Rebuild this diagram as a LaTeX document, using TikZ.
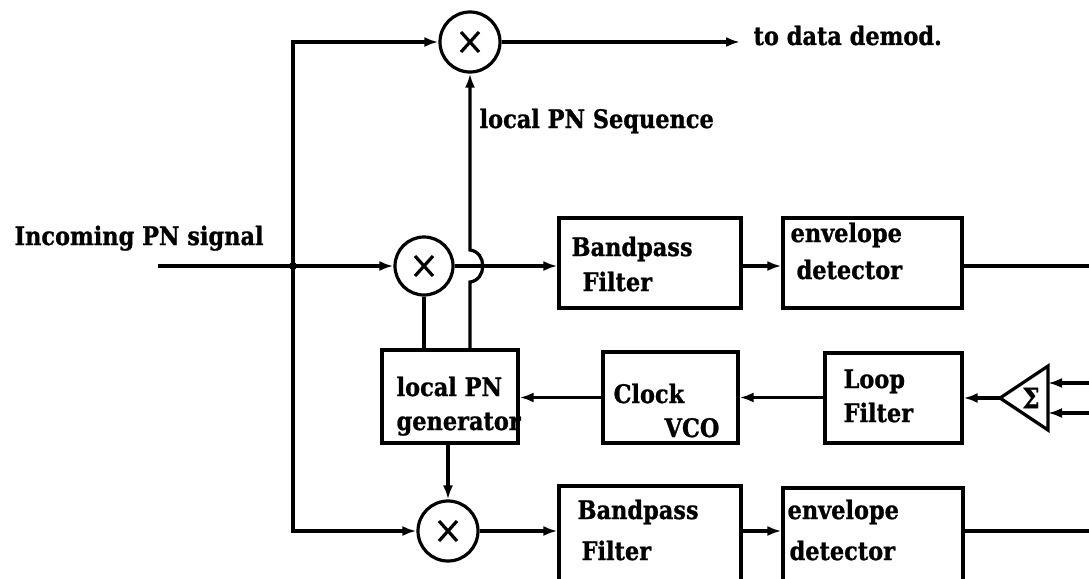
\documentclass[tikz,border=0pt]{standalone}
\usepackage{fontspec}
\setmainfont{DejaVu Serif}[FakeStretch=0.88, BoldFeatures={FakeBold=1}]
\usetikzlibrary{arrows.meta,calc}
\begin{document}
\begin{tikzpicture}[x=1pt,y=-1pt,
  line width=3.2pt,
  font=\fontsize{25.5}{28}\selectfont\bfseries,
  blk/.style={draw, rectangle, inner sep=0pt},
  mult/.style={draw, circle, inner sep=0pt, minimum size=60pt,
    path picture={\draw[line width=3.2pt]
      ($(path picture bounding box.center)+(-9,-10)$) -- ++(18,20)
      ($(path picture bounding box.center)+(9,-10)$) -- ++(-18,20);}},
  lbl/.style={anchor=base west, inner sep=0pt},
  arr/.style={-{Latex[length=14pt,width=10pt]}},
]
\useasboundingbox (0,0) rectangle (1089,578);
\clip (0,0) rectangle (1089,578);

% multipliers
\node[mult] (m1) at (470,42) {};
\node[mult, minimum size=58pt] (m2) at (424,266) {};
\node[mult] (m3) at (448,531) {};

% blocks
\node[blk, minimum width=182pt, minimum height=90pt] (bp1) at (650,263) {};
\node[blk, minimum width=179pt, minimum height=90pt] (env1) at (872.5,263) {};
\node[blk, minimum width=136pt, minimum height=93pt] (pngen) at (450,396.5) {};
\node[blk, minimum width=135pt, minimum height=91pt] (vco) at (670.5,397.5) {};
\node[blk, minimum width=137pt, minimum height=90pt] (loop) at (893.5,398) {};
\node[blk, minimum width=182pt, minimum height=110pt] (bp2) at (650,541) {};
\node[blk, minimum width=180pt, minimum height=110pt] (env2) at (873,543) {};

% summing amplifier
\coordinate (sapex) at (1000,398);
\coordinate (stop) at (1048,366);
\coordinate (sbot) at (1048,430);
\draw[line join=miter] (sapex) -- (stop) -- (sbot) -- cycle;
\node[inner sep=0pt, font=\fontsize{28}{30}\selectfont\bfseries] (sigma) at (1031,398) {Σ};
\coordinate (sin1) at (1048,383);
\coordinate (sin2) at (1048,413);
\coordinate (sfeed1) at (1089,383);
\coordinate (sfeed2) at (1089,413);

% labels
\node[lbl] (tin) at (13,245) {Incoming PN signal};
\node[lbl] (tout) at (752,45) {to data demod.};
\node[lbl] (tseq) at (478,128) {local PN Sequence};
\node[lbl] (tbp1a) at (570,256) {Bandpass};
\node[lbl] (tbp1b) at (581,291) {Filter};
\node[lbl] (tenv1a) at (789,242) {envelope};
\node[lbl] (tenv1b) at (795,279) {detector};
\node[lbl] (tpna) at (395,396) {local PN};
\node[lbl] (tpnb) at (395,430) {generator};
\node[lbl] (tvcoa) at (612,403) {Clock};
\node[lbl] (tvcob) at (663,437) {VCO};
\node[lbl] (tloopa) at (842,388) {Loop};
\node[lbl] (tloopb) at (842,422) {Filter};
\node[lbl] (tbp2a) at (576,519) {Bandpass};
\node[lbl] (tbp2b) at (580,560) {Filter};
\node[lbl] (tenv2a) at (786,519) {envelope};
\node[lbl] (tenv2b) at (788,560) {detector};

% signal input and the splitting bus
\coordinate (src) at (158,266);
\coordinate (split) at (293,266);
\coordinate (demod) at (740,42);
\coordinate (edge1) at (1089,266);
\coordinate (edge2) at (1089,531);
\draw[arr] (src) -- (m2.west);
\fill (split) circle (4pt);
\draw[arr] (split) |- (m1.west);
\draw[arr] (split) |- (m3.west);
\draw[arr] (m1.east) -- (demod);

% upper channel
\draw[arr] (m2.east) -- (bp1.west |- m2.east);
\draw[arr] (bp1.east |- m2.east) -- (env1.west |- m2.east);
\draw (env1.east |- m2.east) -- (edge1);

% lower channel
\draw[arr] (m3.east) -- (bp2.west |- m3.east);
\draw[arr] (bp2.east |- m3.east) -- (env2.west |- m3.east);
\draw (env2.east |- m3.east) -- (edge2);

% local code distribution
\coordinate (hoplo) at ($(m1.south |- m2.center)+(0,16)$);
\coordinate (hophi) at ($(m1.south |- m2.center)+(0,-16)$);
\draw[arr] (m1.south |- pngen.north) -- (hoplo)
  .. controls +(17,-2) and +(17,2) .. (hophi) -- (m1.south);
\draw (m2.south) -- (m2.south |- pngen.north);
\draw[arr] (m3.north |- pngen.south) -- (m3.north);

% tracking loop
\draw[arr] (sapex) -- (loop.east |- sapex);
\draw[arr] (loop.west |- vco.east) -- (vco.east);
\draw[arr] (vco.west) -- (pngen.east |- vco.west);
\draw[arr] (sfeed1) -- (sin1);
\draw[arr] (sfeed2) -- (sin2);
\end{tikzpicture}
\end{document}
